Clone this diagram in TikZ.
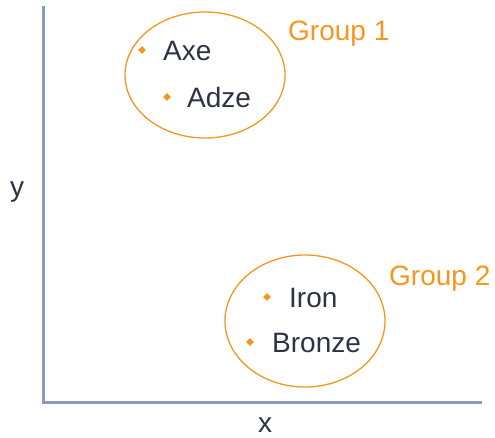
\documentclass[tikz,border=0pt]{standalone}
\usepackage{fontspec}
\setmainfont{Liberation Sans}
\usetikzlibrary{shapes.geometric}
\definecolor{grporange}{RGB}{247,150,30}
\definecolor{inkdark}{RGB}{43,52,69}
\definecolor{axisblue}{RGB}{138,153,196}
\tikzset{
  axisline/.style={draw=axisblue,line width=3pt,line cap=rect},
  grpellipse/.style={draw=grporange,line width=1.3pt},
  bulletmark/.style={diamond,fill=grporange,inner sep=0pt,minimum size=8pt},
  itemtext/.style={anchor=base west,inner sep=0pt,text=inkdark,font=\fontsize{28}{32}\selectfont},
  grouptext/.style={anchor=base west,inner sep=0pt,text=grporange,font=\fontsize{28}{32}\selectfont},
  axistext/.style={anchor=base,inner sep=0pt,text=inkdark,font=\fontsize{28}{32}\selectfont}
}
\begin{document}
\begin{tikzpicture}[x=1pt,y=-1pt]
\useasboundingbox (0,0) rectangle (495,438);
% axes
\coordinate (ytop) at (43,8);
\coordinate (origin) at (43,402);
\coordinate (xend) at (480,402);
\draw[axisline] (ytop) -- (origin) -- (xend);
\node[axistext] (ylab) at (17,197) {y};
\node[axistext] (xlab) at (265,432) {x};
% group ellipses
\draw[grpellipse] (205,75) ellipse [x radius=80, y radius=63];
\draw[grpellipse] (305,321) ellipse [x radius=80, y radius=66];
% group labels
\node[grouptext] (g1) at (288,41) {Group 1};
\node[grouptext] (g2) at (389,286) {Group 2};
% items
\node[bulletmark] (b1) at (142,50) {};
\node[itemtext] (axe) at (163,61) {Axe};
\node[bulletmark] (b2) at (167,97) {};
\node[itemtext] (adze) at (187,108) {Adze};
\node[bulletmark] (b3) at (267,297) {};
\node[itemtext] (iron) at (289,307) {Iron};
\node[bulletmark] (b4) at (250,342) {};
\node[itemtext] (bronze) at (272,352) {Bronze};
\end{tikzpicture}
\end{document}
